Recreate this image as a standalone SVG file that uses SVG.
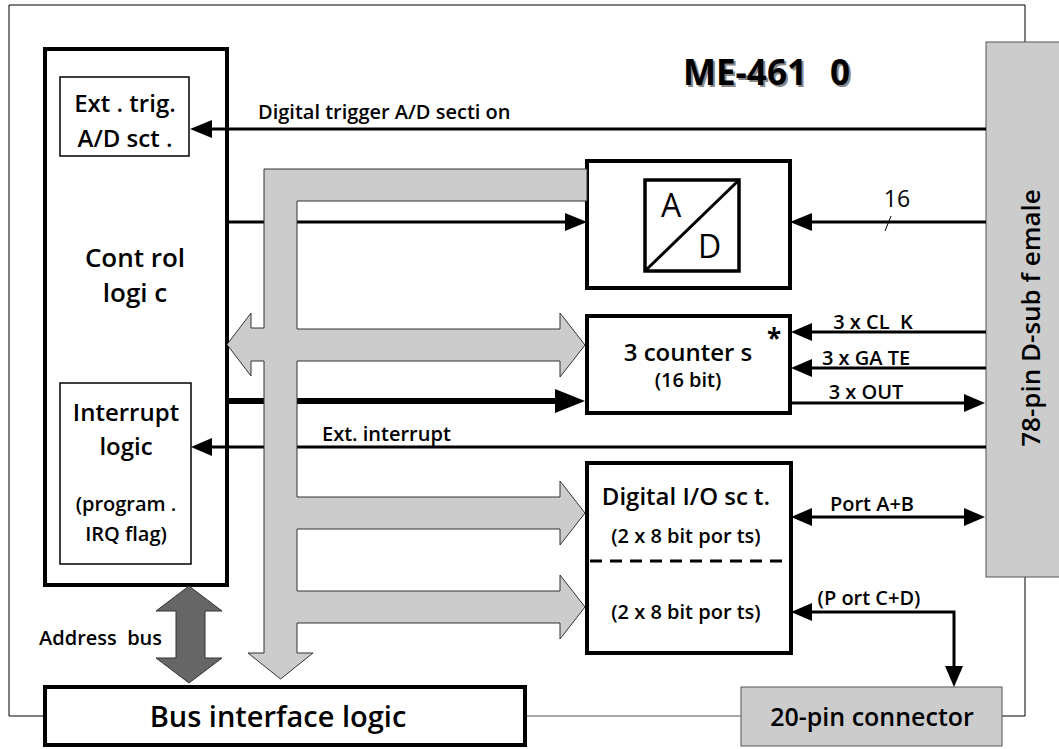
<svg xmlns="http://www.w3.org/2000/svg" width="1059" height="749" viewBox="0 0 1059 749">
<defs>
<style>
text{font-family:"Open Sans","Noto Sans",sans-serif;font-weight:600;fill:#000;white-space:pre}
.thin{fill:none;stroke:#000;stroke-width:1}
.box{fill:#fff;stroke:#000;stroke-width:4}
.sub{fill:#fff;stroke:#000;stroke-width:1.5}
.ln{fill:none;stroke:#000;stroke-width:3}
.bus{fill:#cccccc;stroke:#333;stroke-width:1}
.s19{font-size:20px}
.s23{font-size:24px}
.s26{font-size:26px}
</style>
</defs>

<!-- outer frame -->
<g id="frame">
<polyline class="thin" points="43,716 9,716 9,5 1025,5 1025,42"/>
<polyline class="thin" points="1025,577 1025,716 1002,716"/>
<line x1="525" y1="716" x2="741" y2="716" stroke="#555" stroke-width="1"/>
</g>

<g id="title">
<text x="685" y="87" font-size="35" word-spacing="14" style="fill:#888;font-weight:bold">ME-461 0</text>
<text x="683" y="85" font-size="35" word-spacing="14" style="font-weight:bold">ME-461 0</text>
</g>

<!-- control logic -->
<g id="control">
<rect class="box" x="45" y="49" width="182" height="536"/>
<text class="s26" x="135" y="267" text-anchor="middle">Cont rol</text>
<text class="s26" x="135" y="302" text-anchor="middle">logi c</text>
</g>
<g id="exttrig">
<rect class="sub" x="60" y="77" width="129" height="79"/>
<text class="s23" x="125" y="112" text-anchor="middle">Ext . trig.</text>
<text class="s23" x="125" y="147" text-anchor="middle">A/D sct .</text>
</g>
<g id="interrupt">
<rect class="sub" x="60" y="383" width="131" height="181"/>
<text class="s23" x="126" y="421" text-anchor="middle">Interrupt</text>
<text class="s23" x="126" y="455" text-anchor="middle">logic</text>
<text class="s19" x="126" y="511" text-anchor="middle">(program .</text>
<text class="s19" x="126" y="541" text-anchor="middle">IRQ flag)</text>
</g>

<!-- address bus -->
<g id="addressbus">
<path d="M189,586 L222,611 L205,611 L205,658 L222,658 L189,683 L156,658 L176,658 L176,611 L156,611 Z" fill="#666" stroke="#333" stroke-width="1"/>
<text class="s19" x="39" y="645">Address  bus</text>
</g>

<!-- A/D -->
<g id="ad">
<rect class="box" x="587" y="161" width="203" height="127" stroke-width="3.5"/>
<rect x="645" y="180" width="94" height="91" fill="none" stroke="#000" stroke-width="3.5"/>
<line x1="645" y1="271" x2="739" y2="180" stroke="#000" stroke-width="3"/>
<text x="661" y="217" font-size="32" style="font-weight:500">A</text>
<text x="698" y="258" font-size="32" style="font-weight:500">D</text>
</g>

<!-- counters -->
<g id="counters">
<rect class="box" x="587" y="316" width="203" height="97" stroke-width="3.5"/>
<text class="s23" x="688" y="361" text-anchor="middle">3 counter s</text>
<text class="s19" x="688" y="387" text-anchor="middle">(16 bit)</text>
<text x="774" y="348" font-size="26" text-anchor="middle" style="font-weight:bold">*</text>
</g>

<!-- digital IO -->
<g id="dio">
<rect class="box" x="587" y="463" width="204" height="190" stroke-width="3.5"/>
<line x1="590" y1="561" x2="788" y2="561" stroke="#000" stroke-width="3" stroke-dasharray="12,8"/>
<text class="s23" x="686" y="505" text-anchor="middle">Digital I/O sc t.</text>
<text class="s19" x="686" y="543" text-anchor="middle">(2 x 8 bit por ts)</text>
<text class="s19" x="686" y="619" text-anchor="middle">(2 x 8 bit por ts)</text>
</g>

<!-- 78 pin connector -->
<g id="dsub">
<rect x="986" y="42" width="80" height="535" fill="#cccccc" stroke="#555" stroke-width="1"/>
<text transform="translate(1040,318) rotate(-90)" font-size="26" text-anchor="middle">78-pin D-sub f emale</text>
</g>

<!-- bus interface -->
<g id="businterface">
<rect class="box" x="45" y="687" width="480" height="58"/>
<text x="278" y="727" font-size="29" text-anchor="middle">Bus interface logic</text>
</g>

<!-- 20-pin -->
<g id="pin20">
<rect x="741" y="687" width="261" height="59" fill="#cccccc" stroke="#555" stroke-width="1"/>
<text x="872" y="726" font-size="25" text-anchor="middle">20-pin connector</text>
</g>

<!-- connectors -->
<g id="connectors">
<!-- digital trigger -->
<line class="ln" x1="986" y1="129" x2="210" y2="129"/>
<path d="M190,129 L212,120 L212,138 z"/>
<!-- control to A/D -->
<line class="ln" x1="227" y1="222" x2="566" y2="222"/>
<path d="M587,222 L565,213 L565,231 z"/>
<!-- analog in -->
<line class="ln" x1="986" y1="222" x2="810" y2="222"/>
<path d="M790,222 L812,213 L812,231 z"/>
<line x1="885" y1="231" x2="891" y2="216" stroke="#000" stroke-width="1"/>
<!-- thick to counters -->
<line x1="227" y1="401" x2="556" y2="401" stroke="#000" stroke-width="6"/>
<path d="M585,401 L555,389 L555,413 z"/>
<!-- ext interrupt -->
<line class="ln" x1="986" y1="447" x2="210" y2="447"/>
<path d="M191,447 L212,438 L212,456 z"/>
<!-- CLK / GATE / OUT -->
<line class="ln" x1="986" y1="332" x2="810" y2="332"/>
<path d="M791,332 L812,323 L812,341 z"/>
<line class="ln" x1="986" y1="368" x2="810" y2="368"/>
<path d="M791,368 L812,359 L812,377 z"/>
<line class="ln" x1="791" y1="403" x2="966" y2="403"/>
<path d="M985,403 L964,394 L964,412 z"/>
<!-- Port A+B -->
<line class="ln" x1="810" y1="517" x2="966" y2="517"/>
<path d="M791,517 L812,508 L812,526 z"/>
<path d="M985,517 L964,508 L964,526 z"/>
<!-- Port C+D -->
<polyline class="ln" points="810,612 954,612 954,668"/>
<path d="M791,612 L812,603 L812,621 z"/>
<path d="M954,687 L945,666 L963,666 z"/>
</g>

<!-- connector labels -->
<g id="labels">
<text class="s19" x="258" y="119">Digital trigger A/D secti on</text>
<text x="897" y="207" font-size="23" text-anchor="middle" style="font-weight:500">16</text>
<text class="s19" x="322" y="441">Ext. interrupt</text>
<text class="s19" x="873" y="329" text-anchor="middle">3 x CL  K</text>
<text class="s19" x="866" y="365" text-anchor="middle">3 x GA TE</text>
<text class="s19" x="866" y="399" text-anchor="middle">3 x OUT</text>
<text class="s19" x="872" y="511" text-anchor="middle">Port A+B</text>
<text class="s19" x="869" y="605" text-anchor="middle">(P ort C+D)</text>
</g>

<!-- data bus shape -->
<g id="databus">
<path class="bus" d="M587,169 L264,169 L264,328 L251,328 L251,313 L227,344.5 L251,376 L251,361 L264,361 L264,653 L248,653 L280.5,679 L313,653 L297,653 L297,623 L560,623 L560,639 L585,607 L560,575 L560,591 L297,591 L297,529 L560,529 L560,545 L585,513 L560,481 L560,497 L297,497 L297,361 L560,361 L560,377 L585,345 L560,313 L560,329 L297,329 L297,201 L587,201 Z"/>
</g>
</svg>
